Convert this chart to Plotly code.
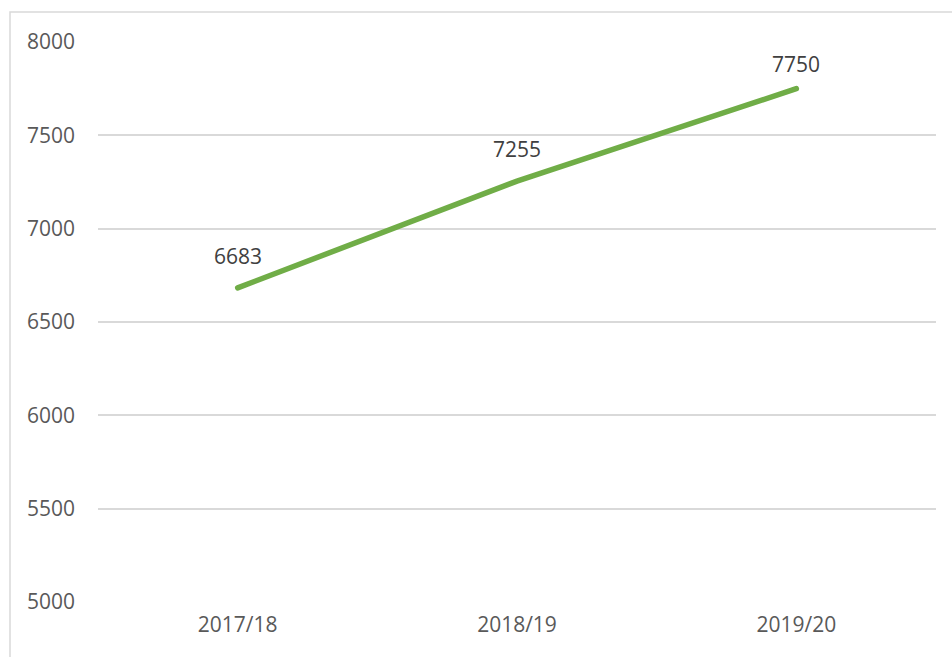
import plotly.graph_objects as go

years = ["2017/18", "2018/19", "2019/20"]
values = [6683, 7255, 7750]
y_ticks = [5000, 5500, 6000, 6500, 7000, 7500, 8000]

FONT = "Open Sans"
TXT = "#595959"

fig = go.Figure()
fig.add_trace(go.Scatter(
    x=years, y=values, mode="lines",
    line=dict(color="#70AD47", width=5.5),
    hoverinfo="skip", showlegend=False,
))

label_shift = [32, 32, 25]
for xv, yv, s in zip(years, values, label_shift):
    fig.add_annotation(x=xv, y=yv, text=str(yv), showarrow=False,
                       yshift=s, font=dict(family=FONT, size=21, color="#404040"))

L, R, T, B = 98, 16, 42, 55
W, H = 952, 657
pw, ph = W - L - R, H - T - B
# outer chart border
x0 = (10 - L) / pw
x1 = (960 - L) / pw
y1 = 1 + (T - 12) / ph
y0 = -(B + 10) / ph
fig.add_shape(type="rect", xref="paper", yref="paper", x0=x0, x1=x1, y0=y0, y1=y1,
              line=dict(color="#d9d9d9", width=1.5), fillcolor="rgba(0,0,0,0)", layer="below")

fig.update_layout(
    width=W, height=H,
    margin=dict(l=L, r=R, t=T, b=B, pad=0),
    paper_bgcolor="white", plot_bgcolor="white",
    font=dict(family=FONT, size=21, color=TXT),
    xaxis=dict(type="category", showgrid=False, showline=False, zeroline=False,
               ticks="", ticklabelstandoff=8, tickfont=dict(size=21, color=TXT),
               range=[-0.5, 2.5]),
    yaxis=dict(range=[5000, 8000], tickvals=y_ticks, showgrid=True,
               gridcolor="#d9d9d9", gridwidth=1.5, zeroline=False, showline=False,
               ticks="", ticklabelstandoff=22, tickfont=dict(size=21, color=TXT)),
)

post = ("document.body.style.margin='0';"
        "document.querySelectorAll('.scatterlayer path.js-line').forEach(function(p){"
        "p.style.strokeLinecap='round';});")
fig.write_html("out.html", post_script=post, config={"displayModeBar": False})
